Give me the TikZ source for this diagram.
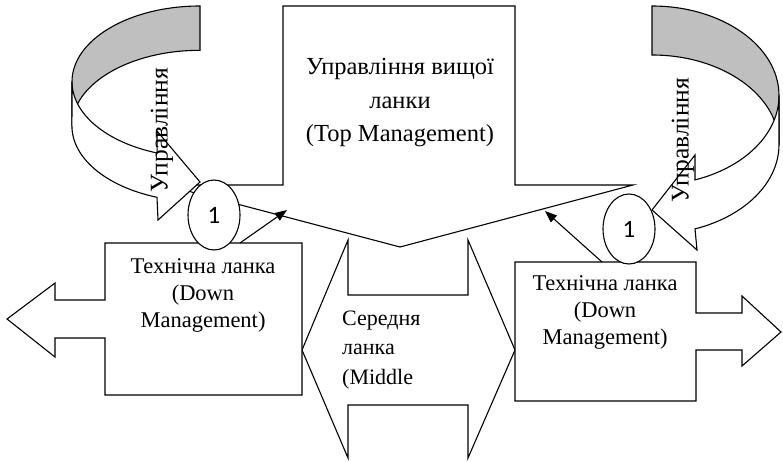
\documentclass[tikz,border=0pt]{standalone}
\usepackage{fontspec}
\setmainfont{Liberation Serif}
\newfontfamily\numfont{Carlito}
\usetikzlibrary{arrows.meta,shapes.geometric}

\begin{document}
\begin{tikzpicture}[x=1pt,y=-1pt,line join=miter,
  outline/.style={draw=black,line width=1.1pt,fill=white},
  backband/.style={draw=black,line width=1.1pt,fill=black!25},
  link/.style={draw=black,line width=1.1pt,-{Triangle[length=12pt,width=9pt]}},
  badge/.style={ellipse,draw=black,line width=1.1pt,fill=white,
    minimum width=52pt,minimum height=70pt,inner sep=0pt,
    font=\numfont\fontsize{25}{25}\selectfont},
  toplabel/.style={align=center,inner sep=0pt,
    font=\fontsize{24.5}{33.5}\selectfont},
  downlabel/.style={align=center,inner sep=0pt,
    font=\fontsize{22.5}{27}\selectfont},
  midlabel/.style={align=left,inner sep=0pt,
    font=\fontsize{22}{29.5}\selectfont},
  looplabel/.style={rotate=90,inner sep=0pt,
    font=\fontsize{25.5}{25.5}\selectfont}]
\useasboundingbox (0,0) rectangle (783,462);

% middle level: double-headed horizontal arrow
\draw[outline] (302,350) -- (348,240) -- (348,295) -- (468,295) -- (468,240)
  -- (515,350) -- (468,458) -- (468,405) -- (348,405) -- (348,458) -- cycle;

% top level: downward block arrow
\draw[outline] (283,6) -- (515,6) -- (515,185) -- (633,185) -- (400,247)
  -- (165,185) -- (283,185) -- cycle;

% left technical level: box with left arrow
\draw[outline] (105,243) -- (302,243) -- (302,395) -- (105,395) -- (105,338)
  -- (55,338) -- (55,357) -- (7,319) -- (55,283) -- (55,300) -- (105,300) -- cycle;

% right technical level: box with right arrow
\draw[outline] (515,262) -- (696,262) -- (696,313) -- (742,313) -- (742,296)
  -- (781,332) -- (742,366) -- (742,350) -- (696,350) -- (696,401)
  -- (515,401) -- cycle;

% left curved arrow: back band, then front band with head
\draw[backband] (200,6) arc[start angle=270,end angle=180,x radius=128,y radius=75.7]
  -- (72,126) arc[start angle=180,end angle=270,x radius=128,y radius=75.7] -- cycle;
\draw[outline] (72,81.7) arc[start angle=180,end angle=109.6,x radius=128,y radius=75.7]
  -- (157,131) -- (200,182) -- (158,220) -- (157,197.3)
  arc[start angle=109.6,end angle=180,x radius=128,y radius=75.7] -- cycle;

% right curved arrow: back band, then front band with head
\draw[backband] (652,6) arc[start angle=270,end angle=360,x radius=127,y radius=89.6]
  -- (779,144.6) arc[start angle=360,end angle=270,x radius=127,y radius=89.6] -- cycle;
\draw[outline] (779,95.6) arc[start angle=0,end angle=70.2,x radius=127,y radius=89.6]
  -- (695,155) -- (652,210) -- (697,250) -- (695,228.9)
  arc[start angle=70.2,end angle=0,x radius=127,y radius=89.6] -- cycle;

% feedback links from the technical levels to the top level
\coordinate (leftfrom) at (240,243);
\coordinate (leftto) at (287,210);
\coordinate (rightfrom) at (602,262);
\coordinate (rightto) at (545,211);
\draw[link] (leftfrom) -- (leftto);
\draw[link] (rightfrom) -- (rightto);

% numbered badges
\node[badge] (badgeL) at (214,215) {1};
\node[badge] (badgeR) at (629,229) {1};

% labels
\node[toplabel,anchor=base] (toptext) at (400,142)
  {Управління вищої\\ланки\\(Top Management)};
\node[downlabel,anchor=base] (downL) at (203,327)
  {Технічна ланка\\(Down\\Management)};
\node[downlabel,anchor=base] (downR) at (605,344)
  {Технічна ланка\\(Down\\Management)};
\node[midlabel,anchor=base west] (midtext) at (342,384)
  {Середня\\ланка\\(Middle};
\node[looplabel] (loopL) at (162,130) {Управління};
\node[looplabel] (loopR) at (683,140) {Управління};
\end{tikzpicture}
\end{document}
